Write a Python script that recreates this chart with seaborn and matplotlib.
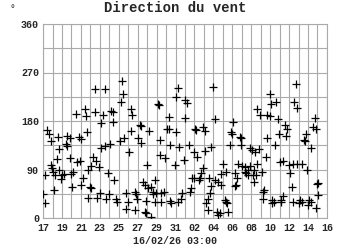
import matplotlib
matplotlib.use("Agg")
import matplotlib.pyplot as plt
import seaborn as sns
import pandas as pd

# Day offsets from 17 Jan (float) and wind direction (degrees)
days = [
    0.04, 0.18, 0.25, 0.46, 0.60, 0.81, 0.81, 0.95, 1.06, 1.16, 1.30, 1.48, 1.58, 1.65, 1.69, 1.94, 2.04,
    2.22, 2.40, 2.54, 2.57, 2.82, 2.89, 2.99, 3.10, 3.17, 3.45, 3.63, 3.77, 3.87, 3.98, 4.05, 4.20, 4.40,
    4.58, 4.68, 4.75, 4.75, 4.93, 5.10, 5.10, 5.28, 5.46, 5.53, 5.63, 5.74, 5.92, 5.99, 6.09, 6.16, 6.34,
    6.51, 6.51, 6.69, 6.87, 6.94, 7.04, 7.20, 7.40, 7.40, 7.50, 7.74, 7.85,
    8.10, 8.27, 8.34, 8.45, 8.55, 8.80, 8.80, 8.98, 9.05, 9.26, 9.26, 9.40, 9.68, 9.68, 9.86, 9.96, 10.03,
    10.21, 10.31, 10.38, 10.56, 10.74, 10.74, 10.91, 10.91, 11.02, 11.09, 11.16, 11.37, 11.44, 11.60, 11.62,
    11.79, 11.79, 11.97, 12.14, 12.25, 12.32, 12.40, 12.50, 12.50, 12.78, 12.92, 13.13, 13.27, 13.27, 13.38,
    13.38, 13.55, 13.90, 14.08, 14.08, 14.26, 14.26, 14.33, 14.54, 14.68, 14.89, 14.96, 15.03, 15.24,
    15.38, 15.49, 15.66, 15.73, 15.95, 16.00, 16.09, 16.19, 16.30, 16.44, 16.54, 16.65, 16.90, 16.90,
    17.07, 17.07, 17.25, 17.42, 17.42, 17.50, 17.60, 17.78, 17.78, 17.95, 18.13, 18.20, 18.41, 18.48,
    18.48, 18.66, 18.76, 18.83, 19.01, 19.18, 19.36, 19.36, 19.47, 19.54, 19.71, 19.82, 19.96, 20.06,
    20.24, 20.31, 20.42, 20.52, 20.59, 20.77, 20.95, 20.95, 21.00, 21.30, 21.30, 21.47, 21.65, 21.65,
    21.82, 21.82, 22.07, 22.18, 22.28, 22.28, 22.35, 22.49, 22.56, 22.63, 22.85, 22.92, 23.09, 23.20,
    23.27, 23.34, 23.55, 23.62, 23.62, 23.97, 23.97, 24.04, 24.15, 24.25, 24.39, 24.50, 24.60, 24.85,
    24.96, 25.03, 25.10, 25.20, 25.38, 25.38, 25.56, 25.66, 25.80, 26.00, 26.15, 26.26, 26.37, 26.37,
    26.50, 26.72, 26.79, 26.79, 27.07, 27.14, 27.32, 27.32, 27.56, 27.67, 27.84, 27.91, 28.02, 28.13,
    28.27, 28.37, 28.55, 28.72, 28.83, 28.90, 28.97, 29.08, 29.10,
]
directions = [
    45, 28, 79, 163, 155, 143, 98, 92, 86, 52, 79, 109, 151, 90, 128, 72, 79,
    82, 137, 134, 152, 111, 148, 81, 58, 85, 193, 103, 150, 106, 61, 146, 74, 202,
    190, 160, 89, 38, 58, 97, 55, 113, 197, 239, 106, 38, 95, 46, 130, 177, 192,
    239, 133, 35, 84, 45, 137, 198, 196, 179, 70, 36, 30,
    142, 215, 254, 231, 148, 46, 17, 30, 123, 202, 161, 192, 48, 15, 45, 35, 149,
    172, 171, 139, 66, 61, 12, 32, 9, 98, 55, 161, 2, 58, 49, 45,
    70, 30, 46, 211, 210, 145, 116, 46, 30, 48, 112, 166, 188, 165, 135,
    32, 27, 98, 225, 160, 241, 30, 132, 35, 46, 108, 186, 219, 213,
    135, 49, 55, 75, 123, 75, 166, 163, 114, 70, 75, 83, 169, 92,
    161, 124, 27, 35, 15, 75, 46, 132, 60, 244, 70, 184, 12, 66,
    6, 9, 61, 82, 100, 33, 86, 30, 27, 11, 135, 160, 155, 179,
    83, 59, 62, 74, 100, 151, 148, 135, 97, 95, 86, 83, 89, 80,
    130, 97, 126, 80, 67, 89, 122, 80, 101, 203, 128, 192, 86, 35,
    48, 52, 114, 191, 148, 231, 190, 211, 33, 27, 30, 135, 215, 184,
    155, 103, 30, 33, 105, 41, 173, 153, 165, 98, 83, 58, 100, 29,
    216, 248, 205, 100, 27, 33, 101, 30, 145, 142, 155, 89, 24, 33,
    30, 130, 168, 186, 166, 18, 64, 43, 65,
]

n = min(len(days), len(directions))
df = pd.DataFrame({"day": days[:n], "dir": directions[:n]})

x_tick_labels = ["17", "19", "21", "23", "25", "27", "29", "31",
                 "02", "04", "06", "08", "10", "12", "14", "16"]
y_ticks = [0, 90, 180, 270, 360]
title = "Direction du vent"
x_label = "16/02/26 03:00"
unit = "°"

sns.set_theme(style="white")
plt.rcParams["font.family"] = ["Liberation Mono", "DejaVu Sans Mono"]
plt.rcParams["font.weight"] = "bold"

fig = plt.figure(figsize=(3.5, 2.5), dpi=100)
ax = fig.add_axes([0.123, 0.128, 0.811, 0.776])

sns.scatterplot(data=df, x="day", y="dir", marker="+", color="black",
                s=30, linewidth=0.9, ax=ax, legend=False, zorder=3)

ax.set_xlim(0, 30)
ax.set_ylim(0, 360)
ax.set_xticks([2 * i for i in range(len(x_tick_labels))])
ax.set_xticklabels(x_tick_labels)
ax.set_xticks(list(range(0, 31)), minor=True)
ax.set_yticks(y_ticks)
ax.set_yticks(list(range(0, 361, 45)), minor=True)
ax.tick_params(axis="x", which="both", length=0, labelsize=7.2, pad=3.5)
ax.tick_params(axis="y", which="both", length=0, labelsize=7.2, pad=3)
for lab in ax.get_xticklabels() + ax.get_yticklabels():
    lab.set_fontweight("bold")
ax.grid(True, which="both", color="#aaaaaa", linewidth=0.8)
ax.set_axisbelow(True)
for sp in ax.spines.values():
    sp.set_color("#aaaaaa")
    sp.set_linewidth(0.8)
ax.set_xlabel("")
ax.set_ylabel("")

fig.text(0.5, 0.968, title, ha="center", va="center", fontsize=10, fontweight="bold")
fig.text(0.5, 0.035, x_label, ha="center", va="center", fontsize=7.2, fontweight="bold")
fig.text(0.035, 0.96, unit, ha="center", va="center", fontsize=7, color="#555555")

fig.savefig("out.png", dpi=100, facecolor="white")
